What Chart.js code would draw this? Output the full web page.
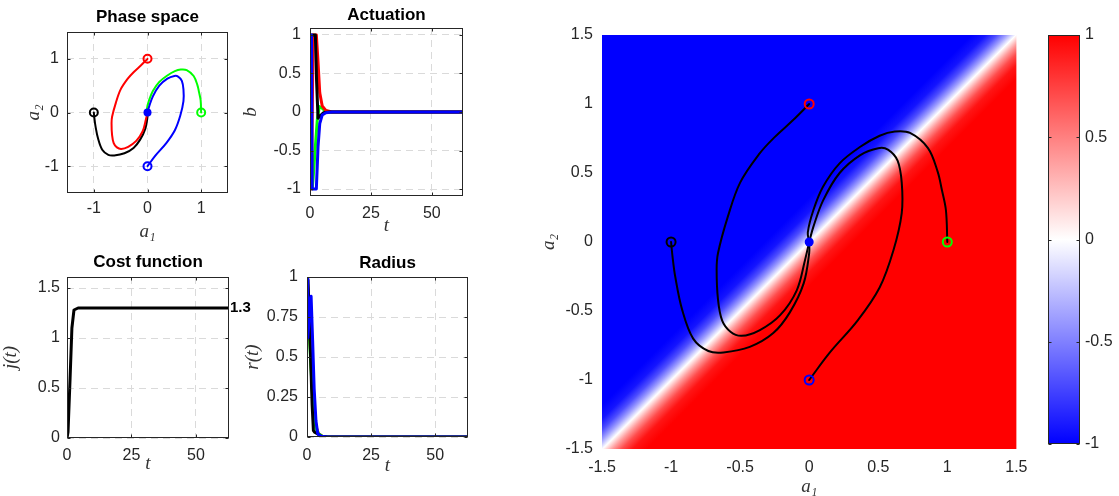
<!DOCTYPE html>
<html>
<head>
<meta charset="utf-8">
<title>Phase space control</title>
<script src="https://cdn.jsdelivr.net/npm/chart.js@4.4.0/dist/chart.umd.min.js"></script>
<style>
  html, body { margin: 0; padding: 0; background: #fff; }
  body { position: relative; width: 1119px; height: 496px; overflow: hidden; }
  canvas { position: absolute; }
</style>
</head>
<body>
<canvas id="phase" width="240" height="245" style="left:0;top:0"></canvas>
<canvas id="actuation" width="240" height="245" style="left:240px;top:0"></canvas>
<canvas id="cost" width="300" height="251" style="left:0;top:245px"></canvas>
<canvas id="radius" width="240" height="251" style="left:240px;top:245px"></canvas>
<canvas id="field" width="516" height="496" style="left:520px;top:0"></canvas>
<canvas id="cbar" width="89" height="496" style="left:1030px;top:0"></canvas>
<script>
// trajectories in the (a1, a2) plane
const blackA1 = [-1, -0.99, -0.97, -0.92, -0.84, -0.73, -0.62, -0.43, -0.26, -0.14, -0.04, 0.0, 0];
const blackA2 = [0, -0.1, -0.25, -0.49, -0.70, -0.79, -0.80, -0.76, -0.66, -0.51, -0.30, -0.08, 0];
const redA1 = [0, -0.12, -0.25, -0.36, -0.5, -0.59, -0.66, -0.67, -0.66, -0.63, -0.57, -0.49, -0.36, -0.21, -0.09, -0.03, 0];
const redA2 = [1, 0.88, 0.76, 0.64, 0.43, 0.18, -0.08, -0.2, -0.42, -0.57, -0.65, -0.68, -0.64, -0.53, -0.35, -0.13, 0];
const greenA1 = [1, 0.99, 0.96, 0.93, 0.86, 0.73, 0.62, 0.51, 0.37, 0.22, 0.10, 0.03, -0.01, 0];
const greenA2 = [0, 0.23, 0.38, 0.51, 0.68, 0.79, 0.80, 0.77, 0.69, 0.57, 0.40, 0.23, 0.07, 0];
const blueA1 = [0, 0.15, 0.35, 0.51, 0.61, 0.67, 0.67, 0.64, 0.57, 0.50, 0.37, 0.22, 0.10, 0.03, 0];
const blueA2 = [-1, -0.80, -0.57, -0.33, -0.06, 0.21, 0.43, 0.59, 0.67, 0.68, 0.63, 0.50, 0.30, 0.11, 0];

// actuation b(t)
const actRedT = [0, 0.6, 1.0, 1.3, 2.6, 3.2, 4.0, 5.0, 6.5, 9, 62.8];
const actRedB = [-1, -1, 0.2, 1, 1, 0.7, 0.25, 0.08, 0.02, 0, 0];
const actBlackT = [0, 0.3, 0.6, 2.2, 2.7, 3.3, 4.2, 5.5, 8, 62.8];
const actBlackB = [-1, -1, 1, 1, 0.4, -0.08, -0.05, -0.01, 0, 0];
const actGreenT = [0, 0.3, 0.9, 1.3, 2.2, 3.0, 3.8, 4.6, 6, 8, 62.8];
const actGreenB = [1, 1, -1, -0.85, -0.45, -0.1, 0.07, 0.06, 0.02, 0, 0];
const actBlueT = [0, 0.6, 0.9, 2.6, 3.3, 4.0, 5.0, 6.5, 9, 62.8];
const actBlueB = [1, 1, -1, -1, -0.45, -0.15, -0.04, -0.01, 0, 0];

// radius r(t)
const radBlueT = [0, 0.3, 0.7, 1.2, 1.6, 2.2, 2.8, 3.5, 4.2, 5.5, 8, 62.8];
const radBlueR = [1, 0.62, 0.7, 0.85, 0.88, 0.6, 0.3, 0.1, 0.02, 0.005, 0, 0];
const radBlackT = [0, 0.4, 1.2, 2.0, 2.5, 3.0, 4.0, 5.5, 8, 62.8];
const radBlackR = [1, 0.98, 0.6, 0.2, 0.04, 0.03, 0.02, 0.005, 0, 0];
const radGreenT = [0, 0.5, 1.2, 2.0, 2.8, 3.6, 4.5, 6, 8, 62.8];
const radGreenR = [1, 0.85, 0.55, 0.3, 0.12, 0.05, 0.02, 0.005, 0, 0];
const radRedT = [0, 0.5, 1.2, 2.0, 2.8, 3.6, 4.5, 6, 8, 62.8];
const radRedR = [1, 0.9, 0.6, 0.32, 0.14, 0.06, 0.02, 0.005, 0, 0];

// cost function j(t)
const costT = [0, 0.4, 1.2, 1.9, 2.7, 4.3, 62.8];
const costJ = [0, 0.06, 0.6, 1.1, 1.28, 1.3, 1.3];

// control field across the switching line a2 = a1 (offset d = a1 - a2)
const fieldOffset = [-0.32, -0.22, -0.14, -0.07, 0, 0.07, 0.14, 0.22, 0.32];
const fieldValue = [-1, -0.92, -0.7, -0.38, 0, 0.38, 0.7, 0.92, 1];

// ticks
const phaseTicks = [-1, 0, 1];
const fieldTicks = [-1.5, -1, -0.5, 0, 0.5, 1, 1.5];
const timeTicks = [0, 25, 50];
const actTicks = [-1, -0.5, 0, 0.5, 1];
const costTicks = [0, 0.5, 1, 1.5];
const radTicks = [0, 0.25, 0.5, 0.75, 1];
const cbarTicks = [-1, -0.5, 0, 0.5, 1];
const cbarLimits = [-1, 1];

const fontSans = "'Liberation Sans', Arial, Helvetica, sans-serif";
const fontMath = "'Liberation Serif', 'DejaVu Serif', serif";
const ink = '#262626';
const gridColor = '#dadada';
const BLUE = '#0000ff', GREEN = '#00ff00', RED = '#ff0000', BLACK = '#000000';

Chart.defaults.animation = false;
Chart.defaults.events = [];
Chart.defaults.plugins.legend.display = false;
Chart.defaults.plugins.tooltip.enabled = false;
Chart.defaults.font.family = fontSans;
Chart.defaults.color = ink;

const pts = (xs, ys) => xs.map((x, i) => ({ x, y: ys[i] }));

function fieldColor(v) {
  const c = Math.round(255 * (1 - Math.abs(v)));
  return v < 0 ? `rgb(${c},${c},255)` : `rgb(255,${c},${c})`;
}

// box round the plot area plus small inward tick marks, like matlab axes
Chart.register({
  id: 'axesBox',
  defaults: { show: false },
  afterDatasetsDraw(chart, args, opts) {
    if (!opts.show) return;
    const { ctx, chartArea: a, scales } = chart;
    const L = Math.round(a.left) + 0.5, R = Math.round(a.right) - 0.5;
    const T = Math.round(a.top) + 0.5, B = Math.round(a.bottom) - 0.5;
    ctx.save();
    ctx.strokeStyle = ink;
    ctx.lineWidth = 1;
    ctx.strokeRect(L, T, R - L, B - T);
    ctx.beginPath();
    if (scales.x.options.display) {
      scales.x.ticks.forEach(t => {
        const p = Math.round(scales.x.getPixelForValue(t.value)) + 0.5;
        ctx.moveTo(p, B); ctx.lineTo(p, B - 3);
        ctx.moveTo(p, T); ctx.lineTo(p, T + 3);
      });
    }
    scales.y.ticks.forEach(t => {
      const p = Math.round(scales.y.getPixelForValue(t.value)) + 0.5;
      ctx.moveTo(L, p); ctx.lineTo(L + 3, p);
      ctx.moveTo(R, p); ctx.lineTo(R - 3, p);
    });
    ctx.stroke();
    ctx.restore();
  }
});

function axis({ min, max, ticks, size, title, titlePad = 0, tickPad = 8, grid = true, position }) {
  return {
    type: 'linear', position, min, max,
    afterBuildTicks: s => { s.ticks = ticks.map(v => ({ value: v })); },
    afterFit: s => { if (s.isHorizontal()) s.height = size; else s.width = size; },
    ticks: {
      color: ink, font: { family: fontSans, size: 16 }, padding: tickPad,
      maxRotation: 0, autoSkip: false, callback: v => String(v)
    },
    grid: { display: grid, color: gridColor, lineWidth: 1, drawTicks: false },
    border: { display: false, dash: [7, 5] },
    title: {
      display: !!title, text: title, color: '#333',
      font: { family: fontMath, size: 19, style: 'italic', lineHeight: 1 },
      padding: { top: titlePad, bottom: titlePad }
    }
  };
}

// title spans only the plot area so it is centred over it
function plotTitle(text, top, bottom) {
  return {
    display: true, text, color: '#000', fullSize: false,
    font: { family: fontSans, size: 17, weight: 'bold', lineHeight: 1 },
    padding: { top, bottom }
  };
}

const traj = [
  { color: BLUE, a1: blueA1, a2: blueA2 },
  { color: GREEN, a1: greenA1, a2: greenA2 },
  { color: RED, a1: redA1, a2: redA2 },
  { color: BLACK, a1: blackA1, a2: blackA2 }
];
const originPt = { x: blueA1[blueA1.length - 1], y: blueA2[blueA2.length - 1] };

function trajDatasets(lineColor, markR, lineW) {
  return [
    { data: [originPt], pointRadius: markR, pointBorderWidth: 0, pointBackgroundColor: BLUE },
    {
      data: traj.map(t => ({ x: t.a1[0], y: t.a2[0] })),
      pointRadius: markR, pointBorderWidth: 2,
      pointBorderColor: traj.map(t => t.color), pointBackgroundColor: 'rgba(0,0,0,0)'
    },
    ...traj.map(t => ({
      data: pts(t.a1, t.a2), showLine: true, pointRadius: 0,
      borderColor: lineColor || t.color, borderWidth: lineW, tension: 0.35,
      borderJoinStyle: 'round', borderCapStyle: 'round'
    }))
  ];
}

function timeSet(ts, vs, color, w) {
  return {
    data: pts(ts, vs), showLine: true, pointRadius: 0, borderColor: color,
    borderWidth: w, tension: 0, borderJoinStyle: 'round'
  };
}

// Phase space
new Chart(document.getElementById('phase'), {
  type: 'scatter',
  data: { datasets: trajDatasets(null, 4, 2) },
  options: {
    responsive: false,
    layout: { padding: { left: 0, right: 12, top: 0, bottom: 0 }, autoPadding: false },
    plugins: { title: plotTitle('Phase space', 8.5, 6.5), axesBox: { show: true } },
    scales: {
      x: axis({ min: -1.5, max: 1.5, ticks: phaseTicks, size: 52, title: 'a₁', titlePad: 3.5, tickPad: 5.5 }),
      y: axis({ min: -1.5, max: 1.5, ticks: phaseTicks, size: 67, title: 'a₂', titlePad: 24.5, tickPad: 8 })
    }
  }
});

// Actuation
new Chart(document.getElementById('actuation'), {
  type: 'scatter',
  data: {
    datasets: [
      timeSet(actBlueT, actBlueB, BLUE, 3),
      timeSet(actBlackT, actBlackB, BLACK, 3),
      timeSet(actRedT, actRedB, RED, 3),
      timeSet(actGreenT, actGreenB, GREEN, 3)
    ]
  },
  options: {
    responsive: false,
    layout: { padding: { left: 0, right: 17, top: 0, bottom: 0 }, autoPadding: false },
    plugins: { title: plotTitle('Actuation', 6.5, 4.5), axesBox: { show: true } },
    scales: {
      x: axis({ min: 0, max: 62.8, ticks: timeTicks, size: 49, title: 't', titlePad: 9.5, tickPad: 7.5 }),
      y: axis({ min: -1.09, max: 1.09, ticks: actTicks, size: 70, title: 'b', titlePad: 1.5, tickPad: 9 })
    }
  }
});

// Cost function, with the final value written at the right edge
new Chart(document.getElementById('cost'), {
  type: 'scatter',
  data: { datasets: [timeSet(costT, costJ, BLACK, 3)] },
  options: {
    responsive: false,
    layout: { padding: { left: 0, right: 71, top: 0, bottom: 0 }, autoPadding: false },
    plugins: { title: plotTitle('Cost function', 8.5, 6.5), axesBox: { show: true } },
    scales: {
      x: axis({ min: 0, max: 62.8, ticks: timeTicks, size: 58, title: 't', titlePad: 22.5, tickPad: 7.5 }),
      y: axis({ min: 0, max: 1.61, ticks: costTicks, size: 67, title: 'j(t)', titlePad: 1.5, tickPad: 7 })
    }
  },
  plugins: [{
    id: 'finalValue',
    afterDatasetsDraw(chart) {
      const { ctx, chartArea: a, scales: { y } } = chart;
      const last = costJ[costJ.length - 1];
      ctx.save();
      ctx.font = `bold 15px ${fontSans}`;
      ctx.fillStyle = '#000';
      ctx.textAlign = 'left';
      ctx.textBaseline = 'middle';
      ctx.fillText(String(last), a.right + 1, y.getPixelForValue(last));
      ctx.restore();
    }
  }]
});

// Radius
new Chart(document.getElementById('radius'), {
  type: 'scatter',
  data: {
    datasets: [
      timeSet(radBlueT, radBlueR, BLUE, 3),
      timeSet(radBlackT, radBlackR, BLACK, 3),
      timeSet(radGreenT, radGreenR, GREEN, 3),
      timeSet(radRedT, radRedR, RED, 3)
    ]
  },
  options: {
    responsive: false,
    layout: { padding: { left: 0, right: 12, top: 0, bottom: 0 }, autoPadding: false },
    plugins: { title: plotTitle('Radius', 9.5, 5.5), axesBox: { show: true } },
    scales: {
      x: axis({ min: 0, max: 62.8, ticks: timeTicks, size: 59, title: 't', titlePad: 20.5, tickPad: 8.5 }),
      y: axis({ min: 0, max: 1, ticks: radTicks, size: 67, title: 'r(t)', titlePad: 3.5, tickPad: 9 })
    }
  }
});

// Control field with trajectories; the right tick label reserves its own margin
new Chart(document.getElementById('field'), {
  type: 'scatter',
  data: { datasets: trajDatasets(BLACK, 4.5, 2) },
  options: {
    responsive: false,
    layout: { padding: { left: 0, right: 0, top: 35, bottom: 0 }, autoPadding: false },
    scales: {
      x: axis({ min: -1.5, max: 1.5, ticks: fieldTicks, size: 47, title: 'a₁', titlePad: 0, tickPad: 8.5, grid: false }),
      y: axis({ min: -1.5, max: 1.5, ticks: fieldTicks, size: 82, title: 'a₂', titlePad: 19.5, tickPad: 9, grid: false })
    }
  },
  plugins: [{
    id: 'fieldMap',
    beforeDatasetsDraw(chart) {
      const { ctx, chartArea: a, scales: { x, y } } = chart;
      const d0 = fieldOffset[0], d1 = fieldOffset[fieldOffset.length - 1];
      // a point at offset d from the line a2 = a1 sits at (d/2, -d/2)
      const g = ctx.createLinearGradient(
        x.getPixelForValue(d0 / 2), y.getPixelForValue(-d0 / 2),
        x.getPixelForValue(d1 / 2), y.getPixelForValue(-d1 / 2));
      fieldOffset.forEach((d, i) => g.addColorStop((d - d0) / (d1 - d0), fieldColor(fieldValue[i])));
      ctx.save();
      ctx.fillStyle = g;
      ctx.fillRect(a.left, a.top, a.width, a.height);
      ctx.restore();
    }
  }]
});

// Colorbar
new Chart(document.getElementById('cbar'), {
  type: 'bar',
  data: {
    labels: [''],
    datasets: [{
      data: [cbarLimits],
      barPercentage: 1, categoryPercentage: 1, borderWidth: 0,
      backgroundColor: c => {
        const { chart } = c;
        if (!chart.chartArea) return '#fff';
        const y = chart.scales.y;
        const g = chart.ctx.createLinearGradient(0, y.getPixelForValue(cbarLimits[0]), 0, y.getPixelForValue(cbarLimits[1]));
        cbarTicks.forEach(v => g.addColorStop((v - cbarLimits[0]) / (cbarLimits[1] - cbarLimits[0]), fieldColor(v)));
        return g;
      }
    }]
  },
  options: {
    responsive: false,
    layout: { padding: { left: 18, right: 0, top: 35, bottom: 52 }, autoPadding: false },
    plugins: { axesBox: { show: true } },
    scales: {
      x: { display: false },
      y: axis({ min: cbarLimits[0], max: cbarLimits[1], ticks: cbarTicks, size: 39, tickPad: 5, grid: false, position: 'right' })
    }
  }
});
</script>
</body>
</html>
